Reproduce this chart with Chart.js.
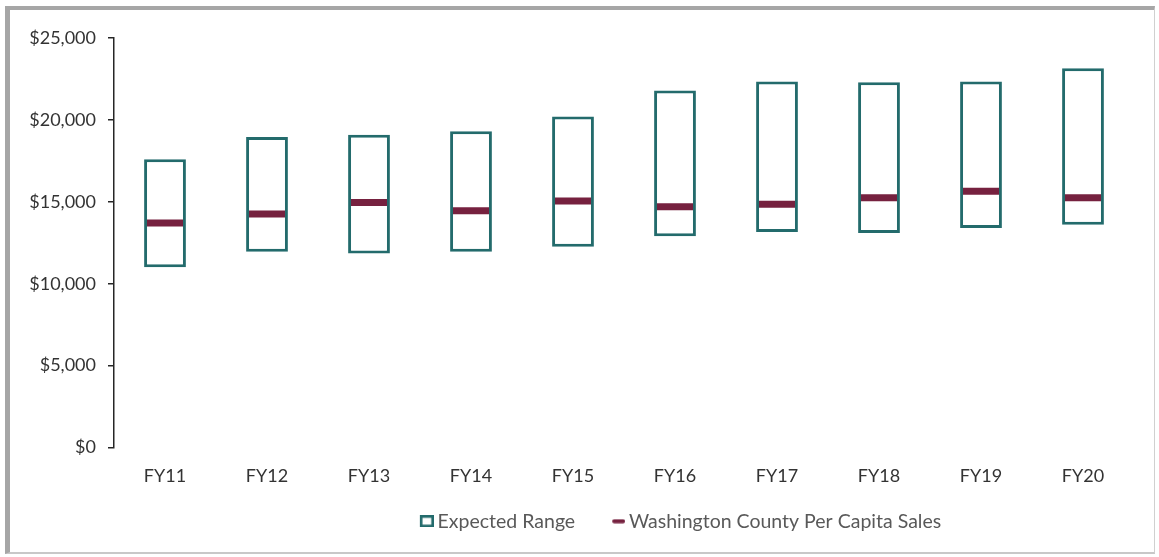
<!DOCTYPE html>
<html>
<head>
<meta charset="utf-8">
<script src="https://cdn.jsdelivr.net/npm/chart.js@4.4.1/dist/chart.umd.min.js"></script>
<style>
    html, body { margin: 0; padding: 0; background: #ffffff; }
    #frame {
        position: absolute;
        left: 5px; top: 6px;
        width: 1150px; height: 548px;
        box-sizing: border-box;
        border-left: 5px solid #a6a6a6;
        border-top: 4px solid #a6a6a6;
        border-right: 1px solid #d0d0d0;
        border-bottom: 2px solid #c8c8c8;
        background: #ffffff;
    }
    #wrap { position: absolute; left: 0; top: 0; width: 1159px; height: 557px; }
</style>
</head>
<body>
<div id="frame"></div>
<div id="wrap"><canvas id="chart" width="1159" height="557"></canvas></div>
<script>
const FISCAL_YEARS = ['FY11', 'FY12', 'FY13', 'FY14', 'FY15', 'FY16', 'FY17', 'FY18', 'FY19', 'FY20'];
const RANGE_LOW = [11000, 11950, 11850, 11950, 12250, 12900, 13150, 13100, 13400, 13600];
const RANGE_HIGH = [17600, 18950, 19100, 19300, 20200, 21800, 22350, 22300, 22350, 23150];
const COUNTY_SALES = [13700, 14250, 14950, 14450, 15050, 14700, 14850, 15250, 15650, 15250];
const Y_TICKS = [0, 5000, 10000, 15000, 20000, 25000];

const TEAL = '#236b6c';
const MAROON = '#76213f';
const TEXT_GREY = '#595959';
const LABEL_GREY = '#333333';
const AXIS_GREY = '#262626';

const LEGEND_FONT = 19.5;
const LEGEND_BOX = 30;

// Legend icons: wide transparent canvases with the mark pushed to the right edge,
// so the mark sits close to its text and the items get extra room between them
const ICON_W = Math.round(LEGEND_BOX + LEGEND_FONT - 8);
const makeIcon = (h, draw) => {
    const c = document.createElement('canvas');
    c.width = ICON_W; c.height = h;
    draw(c.getContext('2d'), ICON_W);
    return c;
};
const rangeIcon = makeIcon(12, (ctx, w) => {
    ctx.fillStyle = '#ffffff';
    ctx.fillRect(w - 14, 0, 14, 12);
    ctx.strokeStyle = TEAL;
    ctx.lineWidth = 2.6;
    ctx.strokeRect(w - 12.7, 1.3, 11.4, 9.4);
});
const salesIcon = makeIcon(5, (ctx, w) => {
    ctx.strokeStyle = MAROON;
    ctx.lineWidth = 4;
    ctx.lineCap = 'round';
    ctx.beginPath();
    ctx.moveTo(w - 11, 2.5);
    ctx.lineTo(w - 2, 2.5);
    ctx.stroke();
});

// the legend sits right of the canvas centre
const legendShift = {
    id: 'legendShift',
    afterLayout: (chart) => {
        chart.legend.left += 100;
        chart.legend.right += 100;
    }
};

const rangeData = FISCAL_YEARS.map((_, i) => [RANGE_LOW[i], RANGE_HIGH[i]]);

Chart.defaults.font.family = 'Lato, "Open Sans", sans-serif';
Chart.defaults.font.size = 18;
Chart.defaults.color = TEXT_GREY;

new Chart(document.getElementById('chart').getContext('2d'), {
    type: 'bar',
    data: {
        labels: FISCAL_YEARS,
        datasets: [
            {
                type: 'line',
                label: 'Washington County Per Capita Sales',
                data: COUNTY_SALES,
                showLine: false,
                pointStyle: 'line',
                pointRadius: 18,
                pointHoverRadius: 18,
                pointBorderWidth: 7,
                pointHoverBorderWidth: 7,
                borderColor: MAROON,
                backgroundColor: MAROON,
                order: 0
            },
            {
                label: 'Expected Range',
                data: rangeData,
                backgroundColor: '#ffffff',
                borderColor: TEAL,
                borderWidth: 3,
                borderSkipped: false,
                categoryPercentage: 1,
                barPercentage: 0.41,
                order: 1
            }
        ]
    },
    plugins: [legendShift],
    options: {
        responsive: false,
        animation: false,
        layout: { padding: { top: 38, right: 20, bottom: 16, left: 0 } },
        scales: {
            x: {
                grid: { display: false },
                border: { display: false },
                ticks: { color: LABEL_GREY, padding: 10, font: { size: 18 } },
                afterFit: (scale) => { scale.height = 50; }
            },
            y: {
                min: 0,
                max: 25000,
                afterBuildTicks: (scale) => { scale.ticks = Y_TICKS.map(v => ({ value: v })); },
                grid: {
                    drawOnChartArea: false,
                    color: AXIS_GREY,
                    lineWidth: 1.5,
                    tickLength: 6
                },
                border: { display: true, color: AXIS_GREY, width: 1.5 },
                ticks: {
                    color: LABEL_GREY,
                    padding: 12,
                    font: { size: 18 },
                    callback: (v) => '$' + Number(v).toLocaleString('en-US')
                },
                afterFit: (scale) => { scale.width = 114; }
            }
        },
        plugins: {
            tooltip: { enabled: false },
            legend: {
                position: 'bottom',
                reverse: true,
                labels: {
                    usePointStyle: true,
                    pointStyleWidth: LEGEND_BOX,
                    boxHeight: 12,
                    padding: 14,
                    color: TEXT_GREY,
                    font: { size: LEGEND_FONT },
                    generateLabels: (chart) => {
                        const items = Chart.defaults.plugins.legend.labels.generateLabels(chart);
                        items.forEach(item => {
                            item.pointStyle = item.datasetIndex === 1 ? rangeIcon : salesIcon;
                        });
                        return items;
                    }
                }
            }
        }
    }
});
</script>
</body>
</html>
